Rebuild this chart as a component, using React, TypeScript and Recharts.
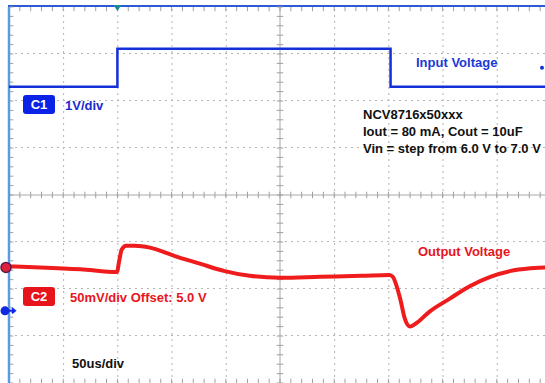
import {
  ComposedChart,
  Line,
  XAxis,
  YAxis,
  ReferenceLine,
  ReferenceDot
} from "recharts";

// time in us (50us/div), input in V (1V/div), output in V (50mV/div, offset 5.0 V)
const inputTime = [0, 100, 100, 352, 352, 500];
const inputVolts = [6.0, 6.0, 7.0, 7.0, 6.0, 6.0];

const outputTime = [
  0, 29, 66, 99.6, 101.5, 104, 108, 116, 130, 153, 176, 199, 222, 250, 287, 325,
  351, 354, 361, 365, 370, 375, 388, 407, 425, 444, 462, 481, 495, 500
];
const outputVolts = [
  5.001, 5.0, 4.998, 4.995, 5.006, 5.019, 5.023, 5.023, 5.021, 5.012, 5.004, 4.996,
  4.991, 4.989, 4.99, 4.991, 4.992, 4.99, 4.966, 4.946, 4.937, 4.94, 4.953, 4.967,
  4.98, 4.99, 4.996, 4.999, 5.0, 5.0
];

// screen grid: 10 time divisions, 8 vertical divisions, 5 minor ticks per division
const majorTimes = [50, 100, 150, 200, 300, 350, 400, 450];
const minorTimes = Array.from({ length: 51 }, (_, i) => i * 10);
const majorDivs = [-3, -2, -1, 1, 2, 3];
const minorDivs = Array.from({ length: 41 }, (_, i) => -4 + i * 0.2);

const triggerTime = 100;
const triggerLevel = 6.5;
const ch1Ground = 0.1;
const ch2Offset = 5.0;

const inputData = inputTime.map((t, i) => ({ t, v: inputVolts[i] }));
const outputData = outputTime.map((t, i) => ({ t, v: outputVolts[i] }));

const W = 552;
const H = 384;
const M = { top: 7, right: 1, bottom: 1, left: 9 };

const TICK = "#a0a0a0";
const DOT = "#b4b4b4";
const BLUE = "#1530d8";
const RED = "#ee1c1c";
const FONT = "'Liberation Sans', Arial, sans-serif";

function TriggerMark(props: any) {
  const { cx, cy } = props;
  return <path d={`M${cx - 4},${cy - 2} L${cx + 4},${cy - 2} L${cx},${cy + 4} Z`} fill="#1a8a9a" />;
}

function LevelMark(props: any) {
  const { cx, cy } = props;
  return <circle cx={cx - 9} cy={cy} r={2} fill={BLUE} />;
}

function Ch2Mark(props: any) {
  const { cx, cy } = props;
  return <circle cx={cx - 3} cy={cy} r={5} fill="#e0203a" stroke="#5a1a50" strokeWidth={1.5} />;
}

function Ch1Mark(props: any) {
  const { cx, cy } = props;
  return (
    <g>
      <circle cx={cx - 4} cy={cy} r={4.5} fill="#1028e0" />
      <path d={`M${cx},${cy} L${cx + 5},${cy} M${cx + 3},${cy - 2.5} L${cx + 6},${cy} L${cx + 3},${cy + 2.5}`} stroke="#1028e0" strokeWidth={2} fill="none" />
    </g>
  );
}

const label = (x: number, y: number, color: string, size = 13) => ({
  position: "absolute" as const,
  left: x,
  top: y,
  color,
  fontFamily: FONT,
  fontWeight: 700,
  fontSize: size,
  lineHeight: 1,
  whiteSpace: "nowrap" as const
});

const badge = (x: number, y: number, bg: string) => ({
  position: "absolute" as const,
  left: x,
  top: y,
  width: 32,
  height: 19,
  borderRadius: 3,
  background: bg,
  color: "#fff",
  fontFamily: FONT,
  fontWeight: 700,
  fontSize: 13,
  lineHeight: "19px",
  textAlign: "center" as const
});

const ax = { xAxisId: "t", yAxisId: "grid", ifOverflow: "visible" as const };

export default function App() {
  return (
    <div
      style={{
        position: "fixed",
        left: 0,
        top: 0,
        width: 545,
        height: 383,
        overflow: "hidden",
        background: "#ffffff"
      }}
    >
      {/* scope frame top edge */}
      <div style={{ position: "absolute", left: 8, top: 5, width: 540, height: 2, background: "#2a5ad8" }} />
      <ComposedChart width={W} height={H} margin={M} style={{ position: "relative" }}>
        <XAxis xAxisId="t" dataKey="t" type="number" domain={[0, 500]} allowDataOverflow hide />
        <YAxis yAxisId="grid" type="number" domain={[-4, 4]} allowDataOverflow hide />
        <YAxis yAxisId="ch1" type="number" domain={[-1.8, 8.1]} allowDataOverflow hide />
        <YAxis yAxisId="ch2" type="number" domain={[4.877, 5.277]} allowDataOverflow hide />

        {/* dotted division lines */}
        {majorTimes.map((t) => (
          <ReferenceLine key={`vx-${t}`} {...ax} x={t + 0.4} stroke={DOT} strokeWidth={1} strokeDasharray="2 4" />
        ))}
        {majorDivs.map((d) => (
          <ReferenceLine key={`hy-${d}`} {...ax} y={d + 0.01} stroke={DOT} strokeWidth={1} strokeDasharray="2 4" />
        ))}

        {/* centre cross and frame */}
        <ReferenceLine {...ax} stroke="#a8a8a8" segment={[{ x: 250, y: -4 }, { x: 250, y: 4 }]} />
        <ReferenceLine {...ax} stroke="#a8a8a8" segment={[{ x: 0, y: 0 }, { x: 500, y: 0 }]} />

        {/* minor ticks */}
        {minorTimes.map((t) => (
          <ReferenceLine key={`tc-${t}`} {...ax} stroke={TICK} segment={[{ x: t, y: -0.07 }, { x: t, y: 0.07 }]} />
        ))}
        {minorTimes.map((t) => (
          <ReferenceLine key={`tt-${t}`} {...ax} stroke={TICK} segment={[{ x: t, y: 4 }, { x: t, y: 3.91 }]} />
        ))}
        {minorTimes.map((t) => (
          <ReferenceLine key={`tb-${t}`} {...ax} stroke={TICK} segment={[{ x: t, y: -4 }, { x: t, y: -3.91 }]} />
        ))}
        {minorDivs.map((d) => (
          <ReferenceLine key={`dc-${d}`} {...ax} stroke={TICK} segment={[{ x: 247, y: d }, { x: 253, y: d }]} />
        ))}
        {minorDivs.map((d) => (
          <ReferenceLine key={`dl-${d}`} {...ax} stroke={TICK} segment={[{ x: 0, y: d }, { x: 4, y: d }]} />
        ))}

        <ReferenceLine {...ax} stroke="#5b9ce0" strokeWidth={2.5} segment={[{ x: 0, y: -4 }, { x: 0, y: 4 }]} />

        <Line
          xAxisId="t"
          yAxisId="ch1"
          data={inputData}
          dataKey="v"
          type="linear"
          stroke={BLUE}
          strokeWidth={2.5}
          dot={false}
          isAnimationActive={false}
        />
        <Line
          xAxisId="t"
          yAxisId="ch2"
          data={outputData}
          dataKey="v"
          type="monotone"
          stroke={RED}
          strokeWidth={4}
          dot={false}
          isAnimationActive={false}
        />
        <ReferenceDot xAxisId="t" yAxisId="grid" x={triggerTime} y={4} r={4} shape={TriggerMark} ifOverflow="visible" />
        <ReferenceDot xAxisId="t" yAxisId="ch1" x={500} y={triggerLevel} r={2} shape={LevelMark} ifOverflow="visible" />
        <ReferenceDot xAxisId="t" yAxisId="ch2" x={0} y={ch2Offset} r={5} shape={Ch2Mark} ifOverflow="visible" />
        <ReferenceDot xAxisId="t" yAxisId="ch1" x={0} y={ch1Ground} r={4} shape={Ch1Mark} ifOverflow="visible" />
      </ComposedChart>

      <div style={badge(23, 95, "#0a22e6")}>C1</div>
      <div style={label(65, 99, "#1a2ad0")}>1V/div</div>
      <div style={label(416, 56, "#1a3ad6")}>Input Voltage</div>
      <div style={label(363, 108, "#111111")}>NCV8716x50xxx</div>
      <div style={label(363, 125, "#111111")}>Iout = 80 mA, Cout = 10uF</div>
      <div style={label(363, 142, "#111111")}>Vin = step from 6.0 V to 7.0 V</div>
      <div style={label(418, 245, "#e8141c")}>Output Voltage</div>
      <div style={badge(23, 287, "#e8141c")}>C2</div>
      <div style={label(70, 291, "#e8141c")}>50mV/div Offset: 5.0 V</div>
      <div style={label(72, 357, "#111111")}>50us/div</div>
    </div>
  );
}
